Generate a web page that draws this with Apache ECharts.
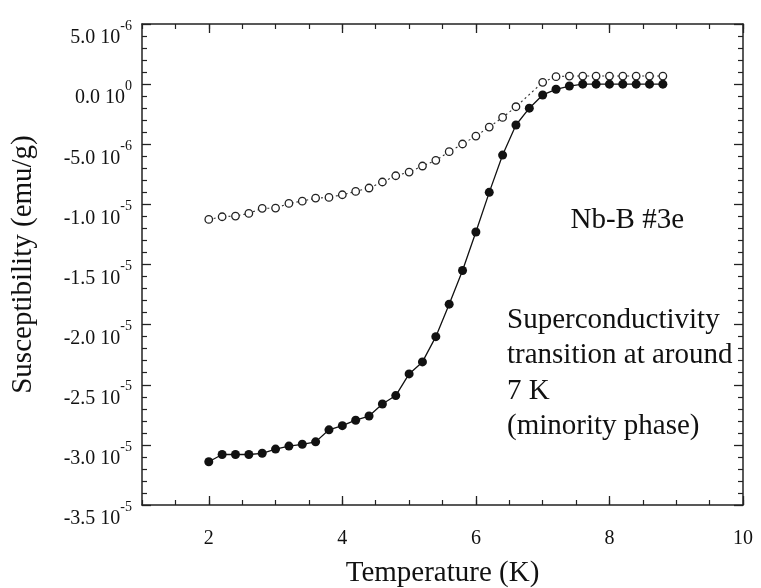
<!DOCTYPE html>
<html><head><meta charset="utf-8">
<script src="https://cdn.jsdelivr.net/npm/echarts@6/dist/echarts.min.js"></script>
<style>html,body{margin:0;padding:0;background:#fff}#c{width:761px;height:588px}</style>
</head><body><div id="c"></div>
<script>
// Temperature (K) for the filled-circle curve
const tempsFilled = [2.0,2.2,2.4,2.6,2.8,3.0,3.2,3.4,3.6,3.8,4.0,4.2,4.4,4.6,4.8,5.0,5.2,5.4,5.6,5.8,6.0,6.2,6.4,6.6,6.8,7.0,7.2,7.4,7.6,7.8,8.0,8.2,8.4,8.6,8.8];
// Susceptibility in units of 1e-6 emu/g
const chiFilled = [-31.4,-30.8,-30.8,-30.8,-30.7,-30.35,-30.1,-29.95,-29.75,-28.75,-28.4,-27.95,-27.6,-26.6,-25.9,-24.1,-23.1,-21.0,-18.3,-15.5,-12.3,-9.0,-5.9,-3.4,-2.0,-0.9,-0.43,-0.16,0.0,0.0,0.0,0.0,0.0,0.0,0.0];
// Temperature (K) for the open-circle curve
const tempsOpen = [2.0,2.2,2.4,2.6,2.8,3.0,3.2,3.4,3.6,3.8,4.0,4.2,4.4,4.6,4.8,5.0,5.2,5.4,5.6,5.8,6.0,6.2,6.4,6.6,7.0,7.2,7.4,7.6,7.8,8.0,8.2,8.4,8.6,8.8];
const chiOpen = [-11.25,-11.03,-10.97,-10.75,-10.33,-10.31,-9.92,-9.73,-9.48,-9.42,-9.2,-8.92,-8.64,-8.14,-7.62,-7.31,-6.81,-6.34,-5.62,-4.98,-4.32,-3.57,-2.77,-1.88,0.15,0.62,0.67,0.67,0.67,0.67,0.67,0.67,0.67,0.67];

const xTickValues = [2,4,6,8,10];
const yTickValues = [5,0,-5,-10,-15,-20,-25,-30,-35];
const yTickMantissa = ['5.0','0.0','-5.0','-1.0','-1.5','-2.0','-2.5','-3.0','-3.5'];
const yTickExponent = ['-6','0','-6','-5','-5','-5','-5','-5','-5'];

const FONT = 'Liberation Serif';
const INK = '#111';
const lineStyle = {color:'#222', width:1.5};

function pairs(xs, ys){ return xs.map((x,i)=>[x, ys[i]]); }
function yFmt(v){
  const i = yTickValues.findIndex(t => Math.abs(t - v) < 1e-6);
  if (i < 0) return '';
  return '{b|' + yTickMantissa[i] + ' 10}{s|' + yTickExponent[i] + '}';
}

const chart = echarts.init(document.getElementById('c'), null, {renderer:'canvas'});
const baseX = {type:'value', min:1, max:10, interval:0.5, gridIndex:0, splitLine:{show:false}};
const option = {
  animation:false,
  backgroundColor:'#fff',
  grid:{left:142, right:18, top:24, bottom:83, containLabel:false, outerBoundsMode:'none'},
  xAxis:[
    Object.assign({}, baseX, {
      position:'bottom',
      axisLine:{show:true, onZero:false, lineStyle:lineStyle},
      axisTick:{show:true, inside:true, length:5, lineStyle:{color:'#222', width:1.2}},
      axisLabel:{customValues:xTickValues, margin:24, fontSize:20, fontFamily:FONT, color:INK},
      name:'Temperature (K)', nameLocation:'middle', nameGap:54,
      nameTextStyle:{fontSize:29, fontFamily:FONT, color:INK}
    }),
    Object.assign({}, baseX, {
      position:'bottom',
      axisLine:{show:false, onZero:false},
      axisTick:{show:true, inside:true, length:9, customValues:xTickValues, lineStyle:{color:'#222', width:1.3}},
      axisLabel:{show:false}
    }),
    Object.assign({}, baseX, {
      position:'top',
      axisLine:{show:true, onZero:false, lineStyle:lineStyle},
      axisTick:{show:true, inside:true, length:5, lineStyle:{color:'#222', width:1.2}},
      axisLabel:{show:false}
    }),
    Object.assign({}, baseX, {
      position:'top',
      axisLine:{show:false, onZero:false},
      axisTick:{show:true, inside:true, length:9, customValues:xTickValues, lineStyle:{color:'#222', width:1.3}},
      axisLabel:{show:false}
    })
  ],
  yAxis:[
    {
      type:'value', position:'left', min:-35, max:5, interval:5,
      axisLine:{show:true, onZero:false, lineStyle:lineStyle},
      axisTick:{show:true, inside:true, length:9, lineStyle:{color:'#222', width:1.3}},
      minorTick:{show:true, splitNumber:5, length:5, lineStyle:{color:'#222', width:1.2}},
      splitLine:{show:false},
      axisLabel:{
        margin:10, formatter:yFmt, padding:[19,0,0,0],
        rich:{
          b:{fontSize:20, fontFamily:FONT, color:INK, verticalAlign:'bottom', padding:[9,0,0,0]},
          s:{fontSize:14, fontFamily:FONT, color:INK, verticalAlign:'top'}
        }
      },
      name:'Susceptibility (emu/g)', nameLocation:'middle', nameGap:104, nameRotate:90,
      nameTextStyle:{fontSize:29, fontFamily:FONT, color:INK}
    },
    {
      type:'value', position:'right', min:-35, max:5, interval:5,
      axisLine:{show:true, onZero:false, lineStyle:lineStyle},
      axisTick:{show:true, inside:true, length:9, lineStyle:{color:'#222', width:1.3}},
      minorTick:{show:true, splitNumber:5, length:5, lineStyle:{color:'#222', width:1.2}},
      splitLine:{show:false},
      axisLabel:{show:false}
    }
  ],
  series:[
    {
      type:'line', xAxisIndex:0, yAxisIndex:0, data:pairs(tempsOpen, chiOpen),
      symbol:'circle', symbolSize:7.5, z:2,
      itemStyle:{color:'#fff', borderColor:'#222', borderWidth:1.3},
      lineStyle:{color:'#333', width:1.1, type:[2,3]}
    },
    {
      type:'line', xAxisIndex:0, yAxisIndex:0, data:pairs(tempsFilled, chiFilled),
      symbol:'circle', symbolSize:9, z:3,
      itemStyle:{color:'#111', borderWidth:0},
      lineStyle:{color:'#111', width:1.3, type:'solid'}
    }
  ],
  graphic:[
    {type:'text', x:570.5, y:220, style:{text:'Nb-B #3e', font:'29px "Liberation Serif"', fill:INK, textAlign:'left', textVerticalAlign:'middle'}},
    {type:'text', x:507, y:320.2, style:{text:'Superconductivity', font:'29px "Liberation Serif"', fill:INK, textAlign:'left', textVerticalAlign:'middle'}},
    {type:'text', x:507, y:355.7, style:{text:'transition at around', font:'29px "Liberation Serif"', fill:INK, textAlign:'left', textVerticalAlign:'middle'}},
    {type:'text', x:507, y:391.2, style:{text:'7 K', font:'29px "Liberation Serif"', fill:INK, textAlign:'left', textVerticalAlign:'middle'}},
    {type:'text', x:507, y:426.7, style:{text:'(minority phase)', font:'29px "Liberation Serif"', fill:INK, textAlign:'left', textVerticalAlign:'middle'}}
  ]
};
chart.setOption(option);
</script>
</body></html>
